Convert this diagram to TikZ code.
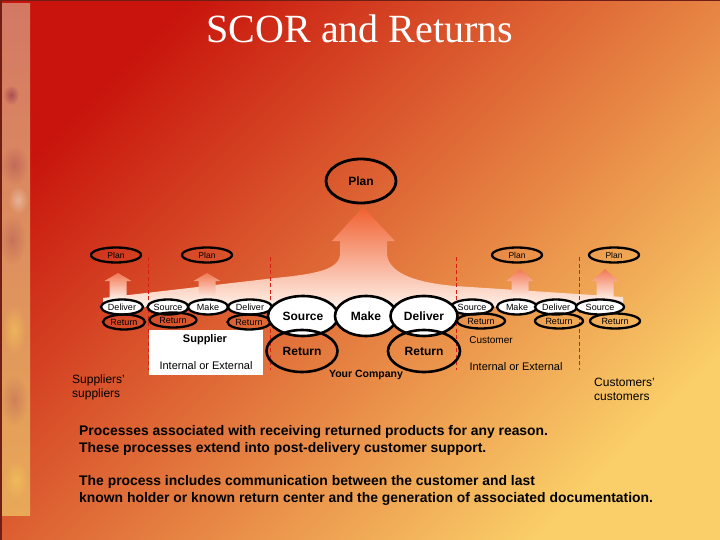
\documentclass[tikz,border=0pt]{standalone}
\usepackage{fontspec}
\setmainfont{Liberation Sans}
\newfontfamily\titlefont{Liberation Serif}
\usetikzlibrary{shapes.geometric,fadings}
\definecolor{bgA}{RGB}{200,20,12}
\definecolor{bgB}{RGB}{224,118,56}
\definecolor{bgC}{RGB}{250,206,104}
\definecolor{arrowtip}{RGB}{240,96,48}
\definecolor{arrowmid}{RGB}{248,190,166}
\definecolor{arrowbase}{RGB}{255,240,232}
\definecolor{smalltip}{RGB}{242,120,84}
\definecolor{divred}{RGB}{215,30,20}
\definecolor{stripA}{RGB}{212,120,100}
\definecolor{stripB}{RGB}{232,168,88}
\definecolor{edgedark}{RGB}{110,30,20}
\definecolor{blotch}{RGB}{160,64,80}
\definecolor{blotchY}{RGB}{245,200,90}
\tikzfading[name=softedge, inner color=transparent!0, outer color=transparent!100]
\begin{document}
\begin{tikzpicture}[x=1pt,y=-1pt,
  smell/.style={ellipse, draw=black, line width=2.3pt, fill=white, minimum height=15pt, inner sep=0pt, font=\fontsize{9}{9}\selectfont},
  smret/.style={smell, fill=none},
  smplan/.style={ellipse, draw=black, line width=2.3pt, minimum width=50pt, minimum height=15pt, inner sep=0pt, font=\fontsize{8.5}{8.5}\selectfont},
  bigell/.style={ellipse, draw=black, line width=2.6pt, fill=white, minimum height=40pt, inner sep=0pt, font=\bfseries\fontsize{12}{12}\selectfont},
  bigret/.style={bigell, fill=none, minimum height=42pt},
  divider/.style={draw=divred, line width=0.8pt, dash pattern=on 4pt off 2.5pt},
  upshade/.style={top color=smalltip, bottom color=arrowbase},
  lbl/.style={inner sep=0pt, font=\fontsize{11}{11}\selectfont},
  desc/.style={anchor=base west, inner sep=0pt, font=\bfseries\fontsize{13.9}{17}\selectfont},
  softspot/.style={path fading=softedge},
]
\useasboundingbox (0,0) rectangle (720,540);
% background
\shade[top color=bgA, middle color=bgB, bottom color=bgC, shading angle=45] (0,0) rectangle (720,540);
% left strip
\shade[top color=stripA, bottom color=stripB] (2,4) rectangle (30,515);
\begin{scope}
\clip (2,4) rectangle (30,515);
\fill[blotch, opacity=0.8, softspot] (11,95) ellipse (8 and 10);
\fill[blotch, opacity=0.4, softspot] (14,165) ellipse (14 and 20);
\fill[blotch, opacity=0.35, softspot] (12,240) ellipse (14 and 25);
\fill[white, opacity=0.35, softspot] (18,200) ellipse (10 and 14);
\fill[blotchY, opacity=0.6, softspot] (14,330) ellipse (12 and 25);
\fill[blotch, opacity=0.3, softspot] (14,400) ellipse (14 and 25);
\fill[blotchY, opacity=0.6, softspot] (16,480) ellipse (12 and 20);
\end{scope}
\fill[edgedark] (0,0) rectangle (2,540);
\fill[edgedark] (0,0) rectangle (720,1.2);
% title
\node[anchor=base, text=white, inner sep=0pt, font=\titlefont\fontsize{40}{40}\selectfont] (title) at (360,43) {SCOR and Returns};
% big arrow and band
\shade[top color=arrowtip, middle color=arrowmid, bottom color=arrowbase]
  (363,207) -- (395,241) -- (387,241) -- (387,255)
  .. controls (390,275) and (420,283) .. (455,286) -- (623,297) -- (623,307) -- (103,307) -- (103,298)
  -- (275,278) .. controls (315,274) and (338,270) .. (340,255) -- (340,241) -- (332,241) -- cycle;
% small arrows
\foreach \c/\t in {118/273, 207/273, 520/269, 605/269} {
  \shade[upshade] (\c,\t) -- (\c+13.5,281) -- (\c+8.5,281) -- (\c+8.5,299) -- (\c-8.5,299) -- (\c-8.5,281) -- (\c-13.5,281) -- cycle;
}
% dividers
\foreach \x/\n in {148/a, 270/b, 456/c, 579/d} {
  \coordinate (d\n top) at (\x,257);
  \coordinate (d\n bot) at (\x,370);
  \draw[divider] (d\n top) -- (d\n bot);
}
% supplier box
\fill[white] (149,330) rectangle (263,375);
\node[inner sep=0pt, font=\bfseries\fontsize{11}{11}\selectfont] (supplier) at (205,340) {Supplier};
\node[lbl] (supint) at (206,366) {Internal or External};
% big plan
\node[ellipse, draw=black, line width=2.8pt, minimum width=70pt, minimum height=44pt, inner sep=0pt, font=\bfseries\fontsize{12}{12}\selectfont] (plan) at (361,181) {Plan};
% small plans
\node[smplan] (planA) at (116,255) {Plan};
\node[smplan] (planB) at (207,255) {Plan};
\node[smplan] (planC) at (517,255) {Plan};
\node[smplan] (planD) at (614,255) {Plan};
% left small row
\node[smell, minimum width=42pt] (ssDel) at (122,307) {Deliver};
\node[smell, minimum width=41pt] (sSrc) at (168,307) {Source};
\node[smell, minimum width=40pt] (sMake) at (208,307) {Make};
\node[smell, minimum width=44pt] (sDel) at (250,307) {Deliver};
\node[smret, minimum width=42pt] (ssRet) at (124,322) {Return};
\node[smret, minimum width=47pt] (sRetA) at (173,320) {Return};
\node[smret, minimum width=43pt] (sRetB) at (249,322) {Return};
% right small row
\node[smell, minimum width=42pt] (cSrc) at (472,307) {Source};
\node[smell, minimum width=40pt] (cMake) at (517,307) {Make};
\node[smell, minimum width=42pt] (cDel) at (556,307) {Deliver};
\node[smell, minimum width=48pt] (ccSrc) at (600,307) {Source};
\node[smret, minimum width=48pt] (cRetA) at (481,321) {Return};
\node[smret, minimum width=48pt] (cRetB) at (559,321) {Return};
\node[smret, minimum width=50pt] (ccRet) at (615,321) {Return};
% company
\node[bigell, minimum width=70pt] (ySrc) at (303,316) {Source};
\node[bigell, minimum width=62pt] (yMake) at (366,316) {Make};
\node[bigell, minimum width=67pt] (yDel) at (424,316) {Deliver};
\node[bigret, minimum width=71pt] (yRetA) at (302,351) {Return};
\node[bigret, minimum width=72pt] (yRetB) at (424,351) {Return};
\node[inner sep=0pt, font=\bfseries\fontsize{10.5}{10.5}\selectfont] (yourco) at (366,375) {Your Company};
% customer labels
\node[inner sep=0pt, font=\fontsize{10}{10}\selectfont] (customer) at (491,340) {Customer};
\node[lbl] (custint) at (516,367) {Internal or External};
% outer labels
\node[inner sep=0pt, anchor=west, font=\fontsize{12}{12}\selectfont] (ssA) at (72,380) {Suppliers'};
\node[inner sep=0pt, anchor=west, font=\fontsize{12}{12}\selectfont] (ssB) at (72,394) {suppliers};
\node[inner sep=0pt, anchor=west, font=\fontsize{12}{12}\selectfont] (ccA) at (594,382) {Customers'};
\node[inner sep=0pt, anchor=west, font=\fontsize{12}{12}\selectfont] (ccB) at (594,397) {customers};
% description
\node[desc] (l1) at (79,435) {Processes associated with receiving returned products for any reason.};
\node[desc] (l2) at (79,452) {These processes extend into post-delivery customer support.};
\node[desc] (l3) at (79,485) {The process includes communication between the customer and last};
\node[desc] (l4) at (79,502) {known holder or known return center and the generation of associated documentation.};
\end{tikzpicture}
\end{document}
